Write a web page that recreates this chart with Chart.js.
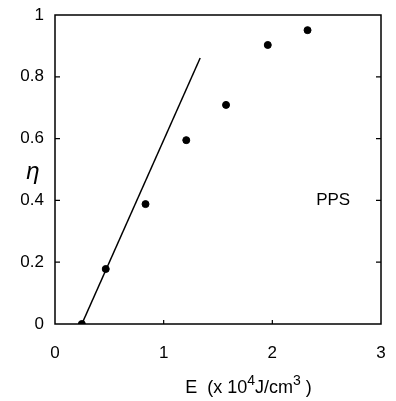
<!DOCTYPE html>
<html>
<head>
<meta charset="utf-8">
<script src="https://cdn.jsdelivr.net/npm/chart.js@4/dist/chart.umd.min.js"></script>
<style>
html,body{margin:0;padding:0;background:#fff;}
canvas{display:block;}
</style>
</head>
<body>
<canvas id="c" width="396" height="401"></canvas>
<script>
// Measured points
const energy = [0.247, 0.467, 0.833, 1.208, 1.574, 1.958, 2.324];
const efficiency = [0, 0.178, 0.388, 0.595, 0.709, 0.903, 0.951];
// Straight line
const lineE = [0.247, 1.336];
const lineEta = [0, 0.861];
// Axes
const xTicks = [0, 1, 2, 3];
const yTicks = [0, 0.2, 0.4, 0.6, 0.8, 1];
// x title pieces: [text, superscript?]
const xTitleParts = [['E  (x 10', false], ['4', true], ['J/cm', false], ['3', true], [' )', false]];
const yTitle = '\u03B7';
const seriesLabel = 'PPS';

const FONT = "'Liberation Sans', Arial, sans-serif";

const framePlugin = {
  id: 'frame',
  afterDraw(chart) {
    const {ctx, chartArea: a, scales: {x, y}} = chart;
    ctx.save();
    ctx.strokeStyle = '#000';
    ctx.lineWidth = 1.5;
    ctx.strokeRect(a.left, a.top, a.right - a.left, a.bottom - a.top);
    // inward ticks
    ctx.lineWidth = 1.2;
    ctx.beginPath();
    yTicks.forEach(v => {
      if (v <= 0 || v >= 1) return;
      const py = y.getPixelForValue(v);
      ctx.moveTo(a.left, py); ctx.lineTo(a.left + 5, py);
      ctx.moveTo(a.right, py); ctx.lineTo(a.right - 5, py);
    });
    xTicks.forEach(v => {
      if (v <= 0 || v >= 3) return;
      const px = x.getPixelForValue(v);
      ctx.moveTo(px, a.bottom); ctx.lineTo(px, a.bottom - 4);
    });
    ctx.stroke();
    // texts
    ctx.fillStyle = '#000';
    ctx.font = '17px ' + FONT;
    ctx.textAlign = 'center';
    ctx.textBaseline = 'middle';
    ctx.fillText(seriesLabel, x.getPixelForValue(2.56), y.getPixelForValue(0.4));
    // x title with superscripts
    ctx.textAlign = 'left';
    ctx.textBaseline = 'alphabetic';
    const big = '18px ' + FONT, small = '14px ' + FONT;
    let total = 0;
    xTitleParts.forEach(([t, sup]) => { ctx.font = sup ? small : big; total += ctx.measureText(t).width; });
    let cx = x.getPixelForValue(1.78) - total / 2;
    const base = 393;
    xTitleParts.forEach(([t, sup]) => {
      ctx.font = sup ? small : big;
      ctx.fillText(t, cx, sup ? base - 8 : base);
      cx += ctx.measureText(t).width;
    });
    ctx.textAlign = 'center';
    ctx.textBaseline = 'middle';
    ctx.font = 'italic 24px ' + FONT;
    ctx.fillText(yTitle, 33, y.getPixelForValue(0.49));
    ctx.restore();
  }
};

new Chart(document.getElementById('c'), {
  data: {
    datasets: [
      {
        type: 'line',
        data: lineE.map((e, i) => ({x: e, y: lineEta[i]})),
        borderColor: '#000',
        borderWidth: 1.5,
        pointRadius: 0,
        fill: false
      },
      {
        type: 'scatter',
        data: energy.map((e, i) => ({x: e, y: efficiency[i]})),
        backgroundColor: '#000',
        borderColor: '#000',
        pointRadius: 3.5
      }
    ]
  },
  options: {
    responsive: false,
    animation: false,
    layout: {padding: {left: 0, top: 15, right: 15, bottom: 0}},
    plugins: {legend: {display: false}, tooltip: {enabled: false}},
    scales: {
      x: {
        type: 'linear',
        min: 0, max: 3,
        afterBuildTicks: s => { s.ticks = xTicks.map(v => ({value: v})); },
        afterFit: s => { s.height = 77; s.paddingLeft = 0; s.paddingRight = 0; },
        grid: {display: false, drawTicks: false},
        border: {display: false},
        ticks: {color: '#000', padding: 19, font: {family: FONT, size: 17},
                callback: v => String(+Number(v).toFixed(1))}
      },
      y: {
        type: 'linear',
        min: 0, max: 1,
        afterBuildTicks: s => { s.ticks = yTicks.map(v => ({value: v})); },
        afterFit: s => { s.width = 55; s.paddingTop = 0; s.paddingBottom = 0; },
        grid: {display: false, drawTicks: false},
        border: {display: false},
        ticks: {color: '#000', padding: 11, font: {family: FONT, size: 17},
                callback: v => String(+Number(v).toFixed(1))}
      }
    }
  },
  plugins: [framePlugin]
});
</script>
</body>
</html>
